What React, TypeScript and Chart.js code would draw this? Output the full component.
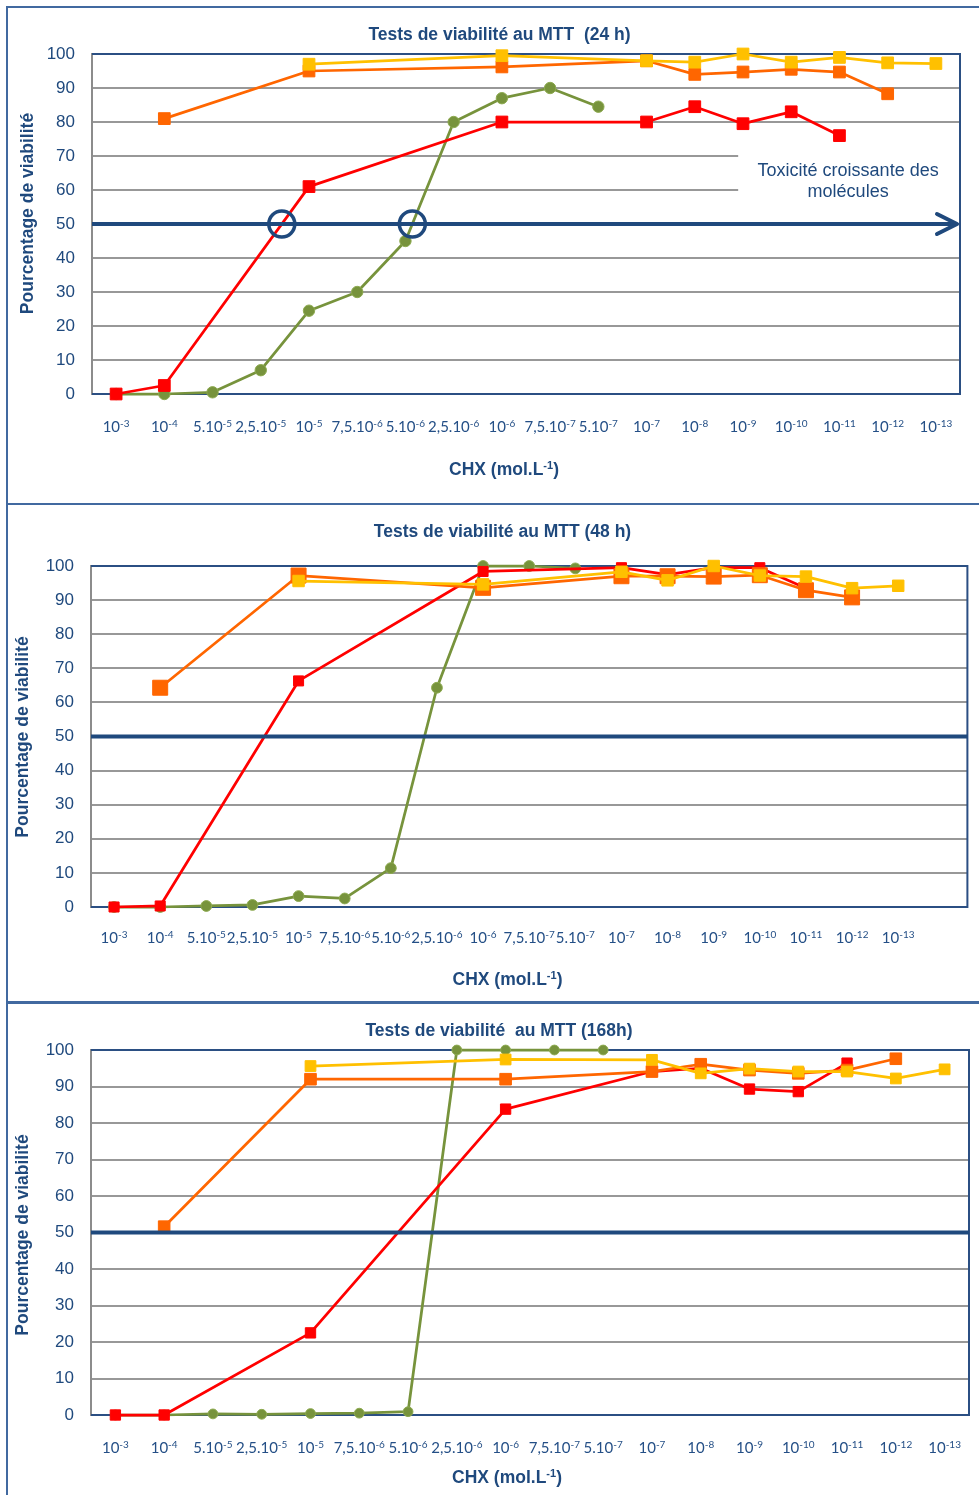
import React, { useEffect, useRef } from "react";
import { Chart, registerables } from "chart.js";

Chart.register(...registerables);

// ---------------- Data ----------------
// Concentration categories (base^exponent)
const concentrations = [
  "10^-3", "10^-4", "5.10^-5", "2,5.10^-5", "10^-5", "7,5.10^-6", "5.10^-6", "2,5.10^-6",
  "10^-6", "7,5.10^-7", "5.10^-7", "10^-7", "10^-8", "10^-9", "10^-10", "10^-11", "10^-12", "10^-13",
];

const viabilityMin = 0;
const viabilityMax = 100;
const viabilityStep = 10;
const viabilityThreshold = 50;

// 24 h
const red24h = [0, 2.5, null, null, 61, null, null, null, 80, null, null, 80, 84.5, 79.5, 83, 76, null, null];
const orange24h = [null, 81, null, null, 95, null, null, null, 96.2, null, null, 98, 94, 94.7, 95.5, 94.7, 88.3, null];
const yellow24h = [null, null, null, null, 97, null, null, null, 99.5, null, null, 98, 97.6, 100, 97.6, 99, 97.4, 97.2];
const green24h = [0, 0, 0.5, 7, 24.5, 30, 45, 80, 87, 90, 84.5, null, null, null, null, null, null, null];

// 48 h
const red48h = [0, 0.3, null, null, 66.3, null, null, null, 98.4, null, null, 99.5, 97.5, 99.5, 99.5, 93.5, null, null];
const orange48h = [null, 64.3, null, null, 97.2, null, null, null, 93.6, null, null, 97, 97, 96.9, 97.3, 92.9, 90.8, null];
const yellow48h = [null, null, null, null, 95.6, null, null, null, 94.6, null, null, 98.3, 95.8, 100, 97.2, 96.9, 93.5, 94.2];
const green48h = [0, 0, 0.3, 0.6, 3.2, 2.5, 11.4, 64.3, 100, 100, 99.3, null, null, null, null, null, null, null];

// 168 h
const red168h = [0, 0, null, null, 22.5, null, null, null, 83.8, null, null, 94.1, 95, 89.3, 88.6, 96.4, null, null];
const orange168h = [null, 51.6, null, null, 92, null, null, null, 92, null, null, 94.1, 96.1, 94.5, 93.6, 94.5, 97.6, null];
const yellow168h = [null, null, null, null, 95.6, null, null, null, 97.4, null, null, 97.3, 93.6, 94.9, 94.1, 94.1, 92.2, 94.7];
const green168h = [0, 0, 0.3, 0.2, 0.4, 0.5, 0.9, 100, 100, 100, 100, null, null, null, null, null, null, null];

// Texts
const title24h = "Tests de viabilité au MTT  (24 h)";
const title48h = "Tests de viabilité au MTT (48 h)";
const title168h = "Tests de viabilité  au MTT (168h)";
const yAxisTitle = "Pourcentage de viabilité";
const xAxisTitle = "CHX (mol.L^-1^)";
const noteLines = ["Toxicité croissante des", "molécules"];

// ---------------- Styles ----------------
const PAGE_W = 979;
const PAGE_H = 1495;
const NAVY = "#1F497D";
const TICK_BLUE = "#244F86";
const FRAME = "#2B4F83";
const GRID = "#989898";
const AXIS_GRAY = "#8C8C8C";
const PANEL_BORDER = "#4169A0";
const FONT_ARIAL = '"Liberation Sans", Arial, Helvetica, sans-serif';
const FONT_CALIBRI = 'Lato, "Open Sans", sans-serif';

type Key = "yellow" | "orange" | "red" | "green";
const SERIES_ORDER: Key[] = ["yellow", "orange", "red", "green"];
const SERIES_COLORS: Record<Key, string> = {
  red: "#FF0000",
  orange: "#FF6600",
  yellow: "#FFC000",
  green: "#77933C",
};
const SERIES_LABELS: Record<Key, string> = {
  red: "Molécule rouge",
  orange: "Molécule orange",
  yellow: "Molécule jaune",
  green: "CHX",
};

type PanelSpec = {
  id: string;
  top: number;
  height: number;
  plot: { left: number; right: number; top: number; bottom: number };
  extraSlot: boolean;
  title: string;
  titleX: number;
  titleBaseline: number;
  yTitleX: number;
  yTitleY: number;
  xTitleX: number;
  xTitleBaseline: number;
  tickBaselineGap: number;
  series: Record<Key, { data: (number | null)[]; r: number }>;
  arrow: boolean;
  ic50: Key[];
  note?: { lines: string[]; xFrom: number; yTop: number; yBottom: number; cx: number; baselines: number[] };
};

const panels: PanelSpec[] = [
  {
    id: "24h",
    top: 0,
    height: 504,
    plot: { left: 92, right: 960, top: 54, bottom: 394 },
    extraSlot: false,
    title: title24h,
    titleX: 499.5,
    titleBaseline: 39.5,
    yTitleX: 28,
    yTitleY: 213.5,
    xTitleX: 504,
    xTitleBaseline: 475,
    tickBaselineGap: 37.5,
    series: {
      yellow: { data: yellow24h, r: 8.3 },
      orange: { data: orange24h, r: 8.3 },
      red: { data: red24h, r: 8.3 },
      green: { data: green24h, r: 5.7 },
    },
    arrow: true,
    ic50: ["red", "green"],
    note: { lines: noteLines, xFrom: 12.9, yTop: 75, yBottom: 55, cx: 15.18, baselines: [64.1, 58] },
  },
  {
    id: "48h",
    top: 504,
    height: 499,
    plot: { left: 91, right: 969, top: 62, bottom: 403 },
    extraSlot: true,
    title: title48h,
    titleX: 502.5,
    titleBaseline: 33.3,
    yTitleX: 23,
    yTitleY: 233,
    xTitleX: 507.5,
    xTitleBaseline: 481,
    tickBaselineGap: 36,
    series: {
      yellow: { data: yellow48h, r: 8.1 },
      orange: { data: orange48h, r: 10.6 },
      red: { data: red48h, r: 7.1 },
      green: { data: green48h, r: 5.4 },
    },
    arrow: false,
    ic50: [],
  },
  {
    id: "168h",
    top: 1002,
    height: 493,
    plot: { left: 91, right: 969, top: 48, bottom: 413 },
    extraSlot: false,
    title: title168h,
    titleX: 499,
    titleBaseline: 34,
    yTitleX: 23,
    yTitleY: 233,
    xTitleX: 507,
    xTitleBaseline: 481.3,
    tickBaselineGap: 38.3,
    series: {
      yellow: { data: yellow168h, r: 7.6 },
      orange: { data: orange168h, r: 8.2 },
      red: { data: red168h, r: 7.3 },
      green: { data: green168h, r: 4.9 },
    },
    arrow: false,
    ic50: [],
  },
];

// ---------------- Helpers ----------------
function drawSegments(
  ctx: CanvasRenderingContext2D,
  text: string,
  cx: number,
  baseline: number,
  font: string,
  supFont: string,
  rise: number
) {
  const parts = text.split("^");
  const widths: number[] = [];
  let total = 0;
  parts.forEach((p, i) => {
    ctx.font = i % 2 ? supFont : font;
    const w = ctx.measureText(p).width;
    widths.push(w);
    total += w;
  });
  let x = cx - total / 2;
  ctx.textAlign = "left";
  ctx.textBaseline = "alphabetic";
  parts.forEach((p, i) => {
    ctx.font = i % 2 ? supFont : font;
    ctx.fillText(p, x, i % 2 ? baseline - rise : baseline);
    x += widths[i];
  });
}

function findCrossing(data: (number | null)[], points: any[], threshold: number) {
  const idx: number[] = [];
  data.forEach((v, i) => {
    if (v !== null && v !== undefined) idx.push(i);
  });
  for (let k = 0; k < idx.length - 1; k++) {
    const a = data[idx[k]] as number;
    const b = data[idx[k + 1]] as number;
    if ((a - threshold) * (b - threshold) <= 0 && a !== b) {
      const t = (threshold - a) / (b - a);
      const p1 = points[idx[k]];
      const p2 = points[idx[k + 1]];
      return { x: p1.x + t * (p2.x - p1.x), y: p1.y + t * (p2.y - p1.y) };
    }
  }
  return null;
}

function makeDecorPlugin(spec: PanelSpec) {
  return {
    id: "panelDecor",
    beforeDatasetsDraw(chart: any) {
      const { ctx, chartArea: a, scales } = chart;
      const x = scales.x;
      const y = scales.y;
      ctx.save();
      // plot frame (top, right, bottom)
      ctx.strokeStyle = FRAME;
      ctx.lineWidth = 2;
      ctx.beginPath();
      ctx.moveTo(a.left, a.top);
      ctx.lineTo(a.right, a.top);
      ctx.lineTo(a.right, a.bottom);
      ctx.lineTo(a.left, a.bottom);
      ctx.stroke();
      // note text box
      if (spec.note) {
        const n = spec.note;
        const x0 = x.getPixelForValue(n.xFrom);
        const yT = y.getPixelForValue(n.yTop);
        const yB = y.getPixelForValue(n.yBottom);
        ctx.fillStyle = "#FFFFFF";
        ctx.fillRect(x0, yT, a.right - 1 - x0, yB - yT);
        ctx.fillStyle = NAVY;
        ctx.font = `18px ${FONT_ARIAL}`;
        ctx.textAlign = "center";
        ctx.textBaseline = "alphabetic";
        n.lines.forEach((line, i) => {
          ctx.fillText(line, x.getPixelForValue(n.cx), y.getPixelForValue(n.baselines[i]));
        });
      }
      ctx.restore();
    },
    afterDatasetsDraw(chart: any) {
      const { ctx, chartArea: a, scales } = chart;
      const y = scales.y;
      const y50 = y.getPixelForValue(viabilityThreshold);
      ctx.save();
      ctx.strokeStyle = NAVY;
      ctx.lineWidth = 4;
      ctx.lineCap = "butt";
      const end = spec.arrow ? a.right - 3 : a.right;
      ctx.beginPath();
      ctx.moveTo(a.left, y50);
      ctx.lineTo(end, y50);
      ctx.stroke();
      if (spec.arrow) {
        ctx.lineCap = "round";
        ctx.lineJoin = "round";
        ctx.beginPath();
        ctx.moveTo(end - 20, y50 - 10);
        ctx.lineTo(end, y50);
        ctx.lineTo(end - 20, y50 + 10);
        ctx.stroke();
      }
      spec.ic50.forEach((key) => {
        const dsIndex = SERIES_ORDER.indexOf(key);
        const meta = chart.getDatasetMeta(dsIndex);
        const c = findCrossing(spec.series[key].data, meta.data, viabilityThreshold);
        if (!c) return;
        ctx.lineWidth = 3.5;
        ctx.strokeStyle = NAVY;
        ctx.beginPath();
        ctx.arc(c.x, y50, 13, 0, Math.PI * 2);
        ctx.stroke();
      });
      ctx.restore();
    },
    afterDraw(chart: any) {
      const { ctx, chartArea: a, scales } = chart;
      const x = scales.x;
      ctx.save();
      ctx.fillStyle = NAVY;
      // chart title
      ctx.font = `bold 17.5px ${FONT_ARIAL}`;
      ctx.textAlign = "center";
      ctx.textBaseline = "alphabetic";
      ctx.fillText(spec.title, spec.titleX, spec.titleBaseline);
      // y axis title
      ctx.save();
      ctx.translate(spec.yTitleX, spec.yTitleY);
      ctx.rotate(-Math.PI / 2);
      ctx.textBaseline = "middle";
      ctx.font = `bold 17.5px ${FONT_ARIAL}`;
      ctx.fillText(yAxisTitle, 0, 0);
      ctx.restore();
      // x axis title
      drawSegments(
        ctx,
        xAxisTitle,
        spec.xTitleX,
        spec.xTitleBaseline,
        `bold 17.5px ${FONT_ARIAL}`,
        `bold 11px ${FONT_ARIAL}`,
        6
      );
      // x tick labels
      ctx.fillStyle = TICK_BLUE;
      const labels: string[] = chart.data.labels;
      labels.forEach((lab, i) => {
        if (!lab) return;
        const px = x.getPixelForValue(i);
        drawSegments(
          ctx,
          lab,
          px,
          a.bottom + spec.tickBaselineGap,
          `15px ${FONT_CALIBRI}`,
          `10px ${FONT_CALIBRI}`,
          5
        );
      });
      ctx.restore();
    },
  };
}

function PanelChart({ spec }: { spec: PanelSpec }) {
  const ref = useRef<HTMLCanvasElement | null>(null);

  useEffect(() => {
    const canvas = ref.current;
    if (!canvas) return;
    const labels = spec.extraSlot ? [...concentrations, ""] : [...concentrations];
    const datasets = SERIES_ORDER.map((key, i) => {
      const s = spec.series[key];
      const color = SERIES_COLORS[key];
      return {
        label: SERIES_LABELS[key],
        data: s.data,
        borderColor: color,
        backgroundColor: color,
        borderWidth: 2.75,
        borderJoinStyle: "round" as const,
        borderCapStyle: "round" as const,
        pointStyle: key === "green" ? "circle" : "rect",
        pointRadius: s.r,
        pointHoverRadius: s.r,
        pointBackgroundColor: color,
        pointBorderColor: key === "green" ? "#8DAA50" : color,
        pointBorderWidth: 1,
        spanGaps: true,
        tension: 0,
        clip: false as any,
        order: i,
      };
    });

    const plot = spec.plot;
    const chart = new Chart(canvas, {
      type: "line",
      data: { labels, datasets: datasets as any },
      options: {
        responsive: false,
        animation: false,
        events: [],
        layout: {
          padding: { left: 0, right: PAGE_W - plot.right, top: plot.top, bottom: 0 },
        },
        plugins: {
          legend: { display: false },
          title: { display: false },
          tooltip: { enabled: false },
        },
        scales: {
          x: {
            type: "category",
            offset: true,
            grid: { display: false },
            border: { display: false },
            ticks: { display: false },
            afterFit: (scale: any) => {
              scale.height = spec.height - plot.bottom;
            },
          },
          y: {
            min: viabilityMin,
            max: viabilityMax,
            ticks: {
              stepSize: viabilityStep,
              color: NAVY,
              padding: 17,
              font: { family: FONT_ARIAL, size: 17 },
            },
            grid: {
              drawTicks: false,
              lineWidth: 2,
              color: (ctx: any) =>
                ctx.tick && (ctx.tick.value === viabilityMin || ctx.tick.value === viabilityMax)
                  ? "rgba(0,0,0,0)"
                  : GRID,
            },
            border: { display: true, color: AXIS_GRAY, width: 2 },
            afterFit: (scale: any) => {
              scale.width = plot.left;
            },
          },
        },
      } as any,
      plugins: [makeDecorPlugin(spec) as any],
    });
    return () => chart.destroy();
  }, [spec]);

  return (
    <canvas
      ref={ref}
      width={PAGE_W}
      height={spec.height}
      style={{ position: "absolute", left: 0, top: spec.top, width: PAGE_W, height: spec.height }}
    />
  );
}

export default function App() {
  const boxes = [
    { top: 6, height: 499 },
    { top: 503, height: 500 },
    { top: 1002, height: 500 },
  ];
  return (
    <div
      style={{
        position: "absolute",
        left: 0,
        top: 0,
        width: PAGE_W,
        height: PAGE_H,
        overflow: "hidden",
        background: "#FFFFFF",
      }}
    >
      {boxes.map((b, i) => (
        <div
          key={i}
          style={{
            position: "absolute",
            left: 6,
            top: b.top,
            width: PAGE_W + 10,
            height: b.height,
            boxSizing: "border-box",
            border: `2px solid ${PANEL_BORDER}`,
          }}
        />
      ))}
      {panels.map((p) => (
        <PanelChart key={p.id} spec={p} />
      ))}
    </div>
  );
}
